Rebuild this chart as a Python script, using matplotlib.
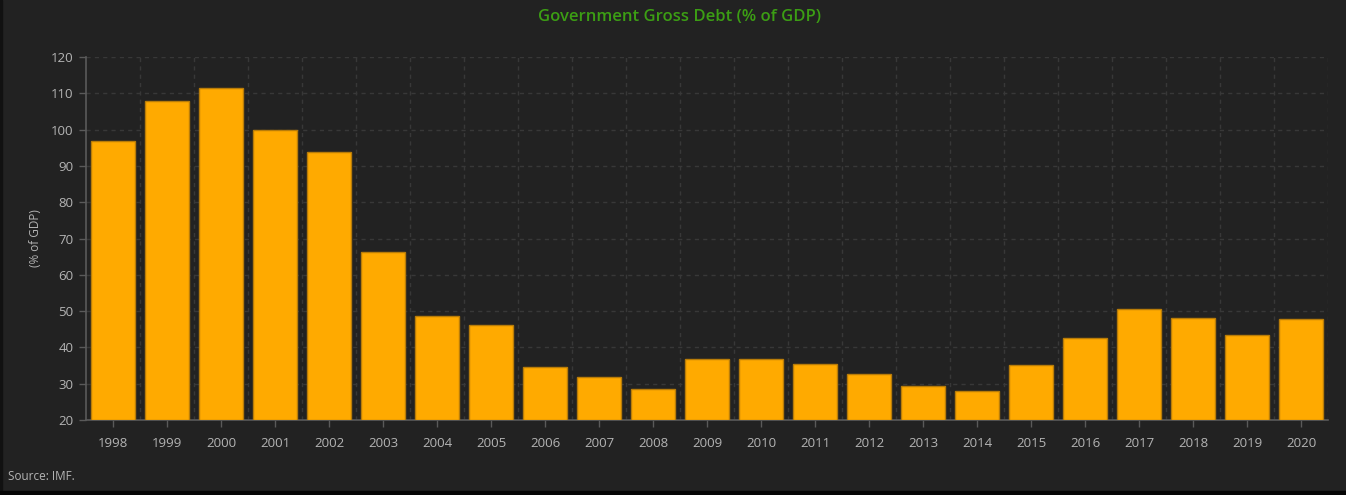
import matplotlib
matplotlib.use("Agg")
import matplotlib.pyplot as plt
from matplotlib.patches import Rectangle

plt.rcParams['font.family'] = ['Open Sans', 'DejaVu Sans']

years = ["1998", "1999", "2000", "2001", "2002", "2003", "2004", "2005", "2006", "2007", "2008", "2009",
         "2010", "2011", "2012", "2013", "2014", "2015", "2016", "2017", "2018", "2019", "2020"]
debt = [96.8, 108.0, 111.5, 99.8, 93.7, 66.3, 48.6, 46.2, 34.6, 31.8, 28.5, 36.8,
        36.8, 35.5, 32.6, 29.4, 27.9, 35.1, 42.6, 50.6, 48.2, 43.5, 47.9]
yTicks = [20, 30, 40, 50, 60, 70, 80, 90, 100, 110, 120]

bg = "#222222"
textColor = "#b4b4b4"
axisColor = "#5a5a5a"
gridColor = "#383838"

fig = plt.figure(figsize=(13.46, 4.95), dpi=100, facecolor=bg)
ax = fig.add_axes([86/1346, 1 - 420/495, (1328 - 86)/1346, (420 - 57)/495])
ax.set_facecolor(bg)

xPos = range(len(years))
ax.bar(xPos, [d - 20 for d in debt], bottom=20, width=0.81, color="#FFAA00",
       edgecolor="#B87C08", linewidth=1.0, zorder=3)

ax.set_xlim(-0.5, len(years) - 0.5)
ax.set_ylim(20, 120)
ax.set_yticks(yTicks)
ax.set_xticks(list(xPos))
ax.set_xticklabels(years)
# vertical grid sits between the bars
ax.set_xticks([i + 0.5 for i in xPos], minor=True)

ax.grid(True, axis="y", which="major", color=gridColor, linestyle=(0, (3, 3)), linewidth=1.0, zorder=0)
ax.grid(True, axis="x", which="minor", color=gridColor, linestyle=(0, (3, 3)), linewidth=1.0, zorder=0)
ax.set_axisbelow(True)

for side in ["top", "right"]:
    ax.spines[side].set_visible(False)
ax.spines["left"].set_color(axisColor)
ax.spines["bottom"].set_color(axisColor)
ax.spines["left"].set_linewidth(1.2)
ax.spines["bottom"].set_linewidth(1.2)

ax.tick_params(axis="both", which="major", colors=axisColor, labelcolor=textColor, labelsize=9.5, length=5, width=1)
ax.tick_params(axis="x", which="minor", length=0)
ax.tick_params(axis="x", pad=7)
ax.tick_params(axis="y", pad=4)

ax.set_ylabel("(% of GDP)", color=textColor, fontsize=8.5)
ax.yaxis.set_label_coords((42 - 86) / 1242, 0.5)

fig.text(0.505, 1 - 17/495, "Government Gross Debt (% of GDP)", color="#3C9E14",
         fontsize=12, fontweight="semibold", ha="center", va="center")
fig.text(8/1346, 1 - 476/495, "Source: IMF.", color=textColor, fontsize=8.5, ha="left", va="center")

# dark frame edges of the screenshot
fig.patches.append(Rectangle((0, 0), 2/1346, 1, transform=fig.transFigure, color="#111111", zorder=0))
fig.patches.append(Rectangle((0, 0), 1, 4/495, transform=fig.transFigure, color="#050505", zorder=0))

plt.savefig("out.png", dpi=100, facecolor=bg)
